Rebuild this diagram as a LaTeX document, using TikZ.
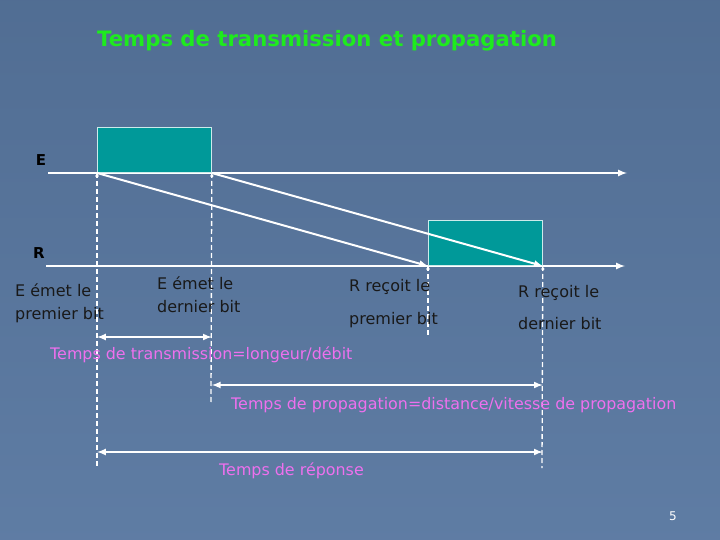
\documentclass[tikz,border=0pt]{standalone}
\usepackage{fontspec}
\setmainfont{DejaVu Sans}
\definecolor{fond}{RGB}{88,119,160}
\definecolor{paquet}{RGB}{0,153,153}
\definecolor{titre}{RGB}{30,235,30}
\definecolor{rose}{RGB}{238,112,238}
\tikzset{
  paquetbox/.style={draw=white!80!paquet, line width=.8pt, fill=paquet, minimum width=114pt, minimum height=45pt, inner sep=0pt, anchor=south west},
  fleche/.style={white, line width=2pt, ->},
  mesure/.style={white, line width=2pt, <->},
  pointille/.style={white, line width=1.3pt, dash pattern=on 5pt off 3pt},
  etiq/.style={text=black!90, font=\fontsize{16}{23}\selectfont, align=left, inner sep=0pt, anchor=north west},
  rosetxt/.style={text=rose, font=\fontsize{15.9}{18}\selectfont, inner sep=0pt, anchor=west}
}
\begin{document}
\begin{tikzpicture}[x=1pt, y=-1pt, >=latex]
\shade[top color=fond!92!black, bottom color=fond!96!white] (0,0) rectangle (720,540);
\useasboundingbox (0,0) rectangle (720,540);
\node[text=titre, font=\bfseries\fontsize{21.2}{24}\selectfont, anchor=west, inner sep=0pt] (titre) at (97,41) {Temps de transmission et propagation};
% les deux lignes
\coordinate (E0) at (48,173);
\coordinate (E1) at (627,173);
\coordinate (R0) at (46,266);
\coordinate (R1) at (625,266);
\draw[fleche] (E0)--(E1);
\draw[fleche] (R0)--(R1);
\node[font=\bfseries\fontsize{15}{18}\selectfont] (e) at (41,160) {E};
\node[font=\bfseries\fontsize{15}{18}\selectfont] (r) at (39,253) {R};
% paquets
\node[paquetbox] (pE) at (97,173) {};
\node[paquetbox] (pR) at (428,266) {};
\draw[fleche] (pE.south west)--(pR.south west);
\draw[fleche] (pE.south east)--(pR.south east);
% pointilles
\coordinate (d1) at (97,468);
\coordinate (d2) at (211,402);
\coordinate (d3) at (428,337);
\coordinate (d4) at (542,468);
\draw[pointille] (pE.south west)--(d1);
\draw[pointille] (pE.south east)--(d2);
\draw[pointille] (pR.south west)--(d3);
\draw[pointille] (pR.south east)--(d4);
\foreach \p in {pE.south west, pE.south east, pR.south west, pR.south east}
{
    \fill[white] (\p) ++(0,3) circle (1.8pt);
}
% textes
\node[etiq] (t1) at (15,284) {E émet le\\premier bit};
\node[etiq] (t2) at (157,277) {E émet le\\dernier bit};
\node[etiq, font=\fontsize{16}{33}\selectfont] (t3) at (349,279) {R reçoit le\\premier bit};
\node[etiq, font=\fontsize{16}{32}\selectfont] (t4) at (518,285) {R reçoit le\\dernier bit};
% durees
\draw[mesure] (pE.south west |- 0,337)--(pE.south east |- 0,337);
\node[rosetxt] (trans) at (50,355) {Temps de transmission=longeur/débit};
\draw[mesure] (pE.south east |- 0,385)--(pR.south east |- 0,385);
\node[rosetxt] (prop) at (231,405) {Temps de propagation=distance/vitesse de propagation};
\draw[mesure] (pE.south west |- 0,452)--(pR.south east |- 0,452);
\node[rosetxt] (rep) at (219,471) {Temps de réponse};
\node[text=white, font=\fontsize{12}{14}\selectfont] (num) at (673,516) {5};
\end{tikzpicture}
\end{document}
